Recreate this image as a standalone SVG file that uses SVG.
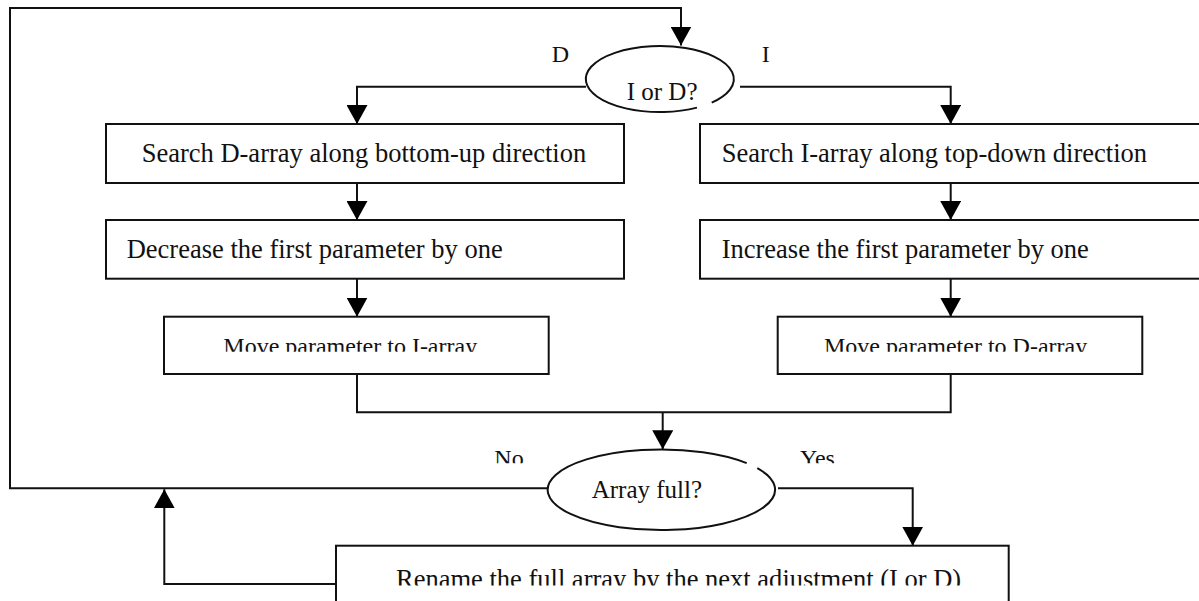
<svg xmlns="http://www.w3.org/2000/svg" width="1199" height="601" viewBox="0 0 1199 601">
<style>
.ln{fill:none;stroke:#111;stroke-width:2}
.bx{fill:#fff;stroke:#111;stroke-width:2}
.t{font-family:"Liberation Serif","Times New Roman",serif;fill:#111}
.big{font-size:26.5px}
.mid{font-size:25px}
.sm{font-size:24px}
</style>
<defs>
<marker id="ah" markerUnits="userSpaceOnUse" markerWidth="19" markerHeight="21" refX="19" refY="10.5" orient="auto" viewBox="0 0 19 21">
<path d="M0,0 L19,10.5 L0,21 z" fill="#000"/>
</marker>
<clipPath id="c3"><rect x="160" y="300" width="400" height="51.7"/></clipPath>
<clipPath id="c6"><rect x="770" y="300" width="400" height="51.7"/></clipPath>
<clipPath id="cl"><rect x="480" y="430" width="380" height="33.3"/></clipPath>
<clipPath id="c7"><rect x="330" y="540" width="700" height="45.5"/></clipPath>
</defs>
<rect width="1199" height="601" fill="#fff"/>
<g id="connectors">
<path class="ln" d="M547.7,488.3 H10 V8 H681 V45.5" marker-end="url(#ah)"/>
<path class="ln" d="M336,584 H164.3 V489.3" marker-end="url(#ah)"/>
<path class="ln" d="M586,86.7 H357 V124" marker-end="url(#ah)"/>
<path class="ln" d="M740,86.7 H950.7 V124" marker-end="url(#ah)"/>
<path class="ln" d="M357,183 V220" marker-end="url(#ah)"/>
<path class="ln" d="M950.7,183 V220" marker-end="url(#ah)"/>
<path class="ln" d="M357,278.7 V316.7" marker-end="url(#ah)"/>
<path class="ln" d="M950.7,278.7 V316.7" marker-end="url(#ah)"/>
<path class="ln" d="M357,374 V412.3 H950.7 V374"/>
<path class="ln" d="M662.7,412.3 V449.3" marker-end="url(#ah)"/>
<path class="ln" d="M778,488.3 H912.7 V545.7" marker-end="url(#ah)"/>
</g>
<g id="decision1">
<path class="ln" d="M711.7,102.6 A74,33 0 1 0 697,107.6"/>
<text class="t mid" x="626.7" y="100">I or D?</text>
</g>
<g id="label-D"><text class="t sm" x="551.7" y="62.3">D</text></g>
<g id="label-I"><text class="t sm" x="761.7" y="62.3">I</text></g>
<g id="searchD">
<rect class="bx" x="106" y="124" width="518" height="59"/>
<text class="t big" x="141.7" y="161.7">Search D-array along bottom-up direction</text>
</g>
<g id="searchI">
<rect class="bx" x="700" y="124" width="510" height="59"/>
<text class="t big" x="721.7" y="161.7">Search I-array along top-down direction</text>
</g>
<g id="decrease">
<rect class="bx" x="106" y="220" width="518" height="58.7"/>
<text class="t big" x="126.7" y="258.3">Decrease the first parameter by one</text>
</g>
<g id="increase">
<rect class="bx" x="700" y="220" width="510" height="58.7"/>
<text class="t big" x="721.7" y="258.3">Increase the first parameter by one</text>
</g>
<g id="moveI">
<rect class="bx" x="164" y="316.7" width="384.7" height="57.3"/>
<text class="t sm" x="223.3" y="353.5" clip-path="url(#c3)">Move parameter to I-array</text>
</g>
<g id="moveD">
<rect class="bx" x="777.7" y="316.7" width="364.6" height="57.3"/>
<text class="t sm" x="824" y="353.5" clip-path="url(#c6)">Move parameter to D-array</text>
</g>
<g id="decision2">
<path class="ln" d="M757.3,468.1 A113.7,40.3 0 1 1 746.7,463.1"/>
<text class="t mid" x="591.7" y="498.3">Array full?</text>
</g>
<g id="label-No"><text class="t sm" x="494.3" y="466" clip-path="url(#cl)">No</text></g>
<g id="label-Yes"><text class="t sm" x="800" y="466" clip-path="url(#cl)">Yes</text></g>
<g id="rename">
<rect class="bx" x="336" y="545.7" width="672.7" height="70"/>
<text class="t big" x="396" y="587.5" clip-path="url(#c7)">Rename the full array by the next adjustment (I or D)</text>
</g>
</svg>
